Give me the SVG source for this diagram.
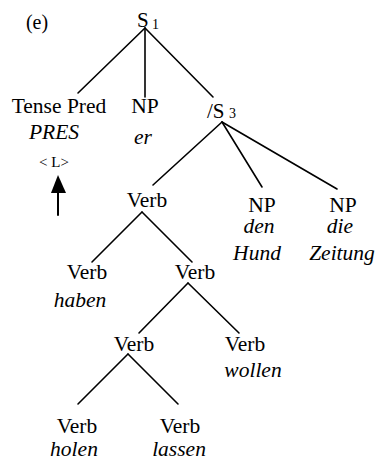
<svg xmlns="http://www.w3.org/2000/svg" width="379" height="463" viewBox="0 0 379 463">
<style>
text{font-family:'Liberation Serif','Times New Roman',serif;font-size:21.5px;fill:#000;text-anchor:middle}
.i{font-style:italic}
.st{text-anchor:start}
.sub{font-size:14px;text-anchor:start}
.lbl{font-size:15px}
line{stroke:#000;stroke-width:1.6;stroke-linecap:round}
</style>
<rect width="379" height="463" fill="#fff"/>
<text x="37" y="29" style="font-size:20px">(e)</text>
<g id="S1"><text class="st" x="137" y="27" style="font-size:21px">S</text><text class="sub" x="152" y="29">1</text></g>
<g id="tense"><text x="59" y="113">Tense Pred</text><text class="i" x="54" y="139">PRES</text><text class="lbl" x="54" y="167">&lt; L&gt;</text></g>
<g id="arrow"><polygon points="58,175 51,193 66,193" fill="#000"/><line x1="58" y1="192" x2="58" y2="215" style="stroke-width:2"/></g>
<g id="NPer"><text x="145" y="113">NP</text><text class="i" x="143" y="144">er</text></g>
<g id="S3"><text class="st" x="207" y="118" style="font-size:21px">/S</text><text class="sub" x="229" y="118">3</text></g>
<g id="NPhund"><text x="262" y="212">NP</text><text class="i" x="259" y="233">den</text><text class="i" x="257" y="260">Hund</text></g>
<g id="NPzeitung"><text x="343" y="212">NP</text><text class="i" x="340" y="233">die</text><text class="i" x="342" y="260">Zeitung</text></g>
<g id="V1"><text x="147" y="207">Verb</text></g>
<g id="Vhaben"><text x="87" y="279">Verb</text><text class="i" x="80" y="307">haben</text></g>
<g id="V2"><text x="195" y="279">Verb</text></g>
<g id="V3"><text x="134" y="351">Verb</text></g>
<g id="Vwollen"><text x="245" y="351">Verb</text><text class="i" x="253" y="377">wollen</text></g>
<g id="Vholen"><text x="77" y="433">Verb</text><text class="i" x="74" y="456">holen</text></g>
<g id="Vlassen"><text x="180" y="433">Verb</text><text class="i" x="179" y="456">lassen</text></g>
<g id="connectors">
<line x1="145" y1="28" x2="78" y2="93"/>
<line x1="145" y1="28" x2="145" y2="97"/>
<line x1="145" y1="28" x2="213" y2="97"/>
<line x1="222" y1="122" x2="153" y2="185"/>
<line x1="222" y1="122" x2="262" y2="187"/>
<line x1="222" y1="122" x2="337" y2="189"/>
<line x1="142" y1="212" x2="92" y2="262"/>
<line x1="142" y1="212" x2="192" y2="262"/>
<line x1="188" y1="283" x2="139" y2="333"/>
<line x1="188" y1="283" x2="239" y2="333"/>
<line x1="128" y1="354" x2="78" y2="404"/>
<line x1="128" y1="354" x2="178" y2="404"/>
</g>
</svg>
